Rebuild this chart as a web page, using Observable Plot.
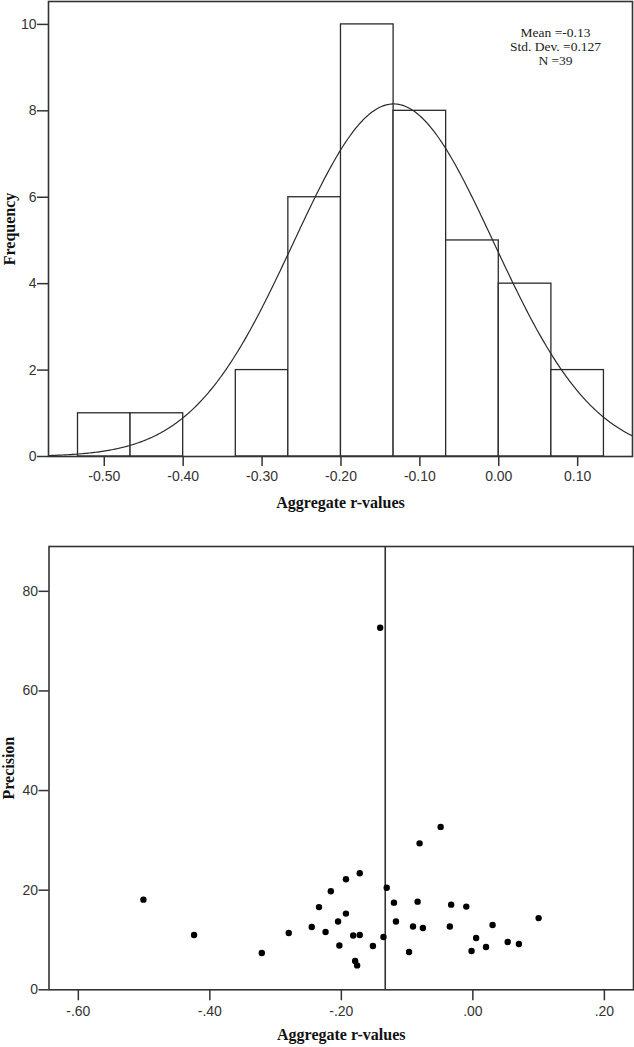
<!DOCTYPE html>
<html><head><meta charset="utf-8">
<script src="https://cdn.jsdelivr.net/npm/d3@7"></script>
<script src="https://cdn.jsdelivr.net/npm/@observablehq/plot@0.6"></script>
<style>
body{margin:0;background:#fff}
#c svg{display:block}
</style>
</head><body><div id="c"></div>
<script>
// ---------- Histogram data ----------
const binStart = [-0.5333, -0.4667, -0.4, -0.3333, -0.2667, -0.2, -0.1333, -0.0667, 0, 0.0667];
const binEnd   = [-0.4667, -0.4, -0.3333, -0.2667, -0.2, -0.1333, -0.0667, 0, 0.0667, 0.1333];
const frequency = [1, 1, 0, 2, 6, 10, 8, 5, 4, 2];
const histXTicks = [-0.5, -0.4, -0.3, -0.2, -0.1, 0, 0.1];
const histYTicks = [0, 2, 4, 6, 8, 10];
const statLines = ["Mean =-0.13", "Std. Dev. =0.127", "N =39"];
const statSD = 0.127;
const statN = 39;

// ---------- Scatter data ----------
const rValues = [-0.501, -0.424, -0.321, -0.280, -0.245, -0.234, -0.216, -0.224, -0.205,
  -0.193, -0.172, -0.131, -0.193, -0.182, -0.172, -0.203, -0.179, -0.176, -0.152, -0.136,
  -0.120, -0.117, -0.097, -0.091, -0.084, -0.081, -0.076,
  -0.049, -0.035, -0.033, -0.010, -0.002,
  0.005, 0.020, 0.030, 0.053, 0.070, 0.100,
  -0.141];
const precision = [18.1, 11.0, 7.4, 11.4, 12.6, 16.6, 19.8, 11.6, 13.7,
  22.2, 23.4, 20.5, 15.3, 10.9, 11.0, 8.9, 5.8, 4.9, 8.8, 10.6,
  17.5, 13.7, 7.6, 12.7, 17.7, 29.4, 12.4,
  32.7, 12.7, 17.1, 16.7, 7.8,
  10.4, 8.6, 13.0, 9.6, 9.2, 14.4,
  72.7];
const scatterXTicks = [-0.6, -0.4, -0.2, 0, 0.2];
const scatterYTicks = [0, 20, 40, 60, 80];

const xLabel = "Aggregate r-values";
const ink = "#2a2a2a";
const tickFont = "'Liberation Sans', Arial, sans-serif";
const titleFont = "'Liberation Serif', 'Times New Roman', serif";

const hist = frequency.map((n, i) => ({x1: binStart[i], x2: binEnd[i], n})).filter(d => d.n > 0);
const meanR = d3.mean(rValues);
const binW = binEnd[0] - binStart[0];
const histXDomain = [-0.5707, 0.1695];
const curve = d3.range(histXDomain[0], histXDomain[1] + 0.001, 0.002).map(x => ({
  x, y: statN * binW * Math.exp(-0.5 * ((x - meanR) / statSD) ** 2) / (statSD * Math.sqrt(2 * Math.PI))
}));
const points = rValues.map((r, i) => ({r, p: precision[i]}));

const style = {fontFamily: tickFont, fontSize: "14px", color: "#333", background: "#fff"};
const titleOpts = {fontFamily: titleFont, fontWeight: "bold", fontSize: 16, fill: "#111", textAnchor: "middle"};

const topChart = Plot.plot({
  width: 634, height: 520,
  marginTop: 1, marginRight: 2, marginBottom: 64, marginLeft: 48,
  x: {domain: histXDomain, label: null},
  y: {domain: [0, 10.53], label: null},
  style,
  marks: [
    Plot.rectY(hist, {x1: "x1", x2: "x2", y: "n", fill: "white", stroke: ink, strokeWidth: 1.3, inset: 0}),
    Plot.line(curve, {x: "x", y: "y", stroke: ink, strokeWidth: 1.2}),
    Plot.frame({stroke: "#333", strokeWidth: 1.6}),
    Plot.axisX(histXTicks, {tickSize: 10, tickPadding: 5, tickFormat: d => d.toFixed(2), label: null, stroke: "#333", strokeWidth: 1.5}),
    Plot.axisY(histYTicks, {tickSize: 11, tickPadding: 1, tickFormat: d => String(d), label: null, stroke: "#333", strokeWidth: 1.5}),
    Plot.text([xLabel], {...titleOpts, frameAnchor: "bottom", lineAnchor: "bottom", dy: 51}),
    Plot.text(["Frequency"], {...titleOpts, frameAnchor: "left", rotate: -90, dx: -39}),
    ...statLines.map((line, i) => Plot.text([line], {
      frameAnchor: "top-right", textAnchor: "middle", lineAnchor: "bottom",
      dx: -77, dy: 35 + 14 * i, fontFamily: titleFont, fontSize: 13.5, fill: "#222"
    }))
  ]
});

const bottomChart = Plot.plot({
  width: 634, height: 527,
  marginTop: 26, marginRight: 1, marginBottom: 57.7, marginLeft: 48.5,
  x: {domain: [-0.6446, 0.2443], label: null},
  y: {domain: [0, 89], label: null},
  style,
  marks: [
    Plot.ruleX([meanR], {stroke: "#333", strokeWidth: 1.6}),
    Plot.dot(points, {x: "r", y: "p", r: 3.2, fill: "#000", stroke: "none"}),
    Plot.frame({stroke: "#333", strokeWidth: 1.6}),
    Plot.axisX(scatterXTicks, {tickSize: 11, tickPadding: 5, tickFormat: d => d.toFixed(2).replace("0.", "."), label: null, stroke: "#333", strokeWidth: 1.5}),
    Plot.axisY(scatterYTicks, {tickSize: 10, tickPadding: 1, tickFormat: d => String(d), label: null, stroke: "#333", strokeWidth: 1.5}),
    Plot.text([xLabel], {...titleOpts, frameAnchor: "bottom", lineAnchor: "bottom", dy: 50}),
    Plot.text(["Precision"], {...titleOpts, frameAnchor: "left", rotate: -90, dx: -40})
  ]
});

document.getElementById("c").append(topChart, bottomChart);
</script>
</body></html>
